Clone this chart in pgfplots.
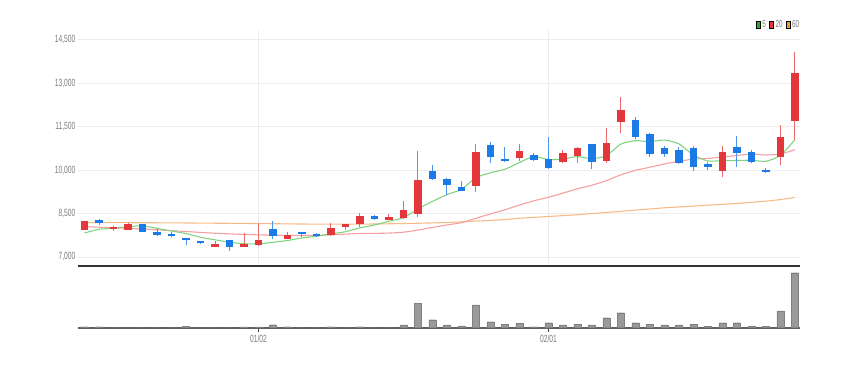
\documentclass[border=0pt]{standalone}
\usepackage{pgfplots}
\usepackage{pgfplotstable}
\pgfplotsset{compat=1.18}
\usepackage{fontspec}
\setmainfont{Liberation Sans}
\newfontfamily\tickfont{Liberation Sans}[FakeStretch=0.64]
\definecolor{upc}{HTML}{E4373C}
\definecolor{dnc}{HTML}{1B7AE6}
\definecolor{upw}{HTML}{EB6A6E}
\definecolor{dnw}{HTML}{4A95EA}
\definecolor{mafive}{HTML}{80D480}
\definecolor{matwenty}{HTML}{F4A0A0}
\definecolor{masixty}{HTML}{F6BC88}
\definecolor{lgreen}{HTML}{22B322}
\definecolor{lred}{HTML}{E83A3A}
\definecolor{lorange}{HTML}{F39A2C}
\definecolor{tickgray}{HTML}{7A7A7A}
\definecolor{gridc}{HTML}{EDEDED}
\definecolor{volg}{HTML}{9A9A9A}

\pgfplotstableread{
x o h l c
0 7933 8255 7916 8210
2 7968 8071 7899 8013
3 7933 8175 7916 8130
9 7346 7553 7330 7439
11 7356 7840 7340 7439
12 7415 8165 7390 7577
14 7632 7854 7610 7736
17 7770 8165 7743 7992
18 8047 8140 7933 8116
19 8130 8510 8047 8393
21 8279 8476 8262 8372
22 8337 8946 8324 8600
23 8476 10674 8372 9637
27 9446 10895 9257 10618
30 10411 10895 10328 10639
33 10294 10698 10260 10560
34 10490 10802 10238 10732
36 10328 11469 10238 10905
37 11676 12540 11275 12046
44 9982 10836 9775 10605
48 10466 11562 10180 11137
49 11700 14075 11043 13324
}\uptab

\pgfplotstableread{
x o h l c
1 8244 8313 8106 8165
4 8130 8150 7847 7875
5 7854 7968 7726 7760
6 7785 7875 7680 7715
7 7646 7667 7404 7577
8 7543 7560 7440 7474
10 7553 7570 7207 7356
13 7957 8244 7632 7736
15 7854 7864 7680 7805
16 7770 7840 7680 7726
20 8393 8440 8279 8303
24 9962 10180 9660 9696
25 9685 9713 9143 9478
26 9395 9627 9270 9291
28 10849 10964 10238 10466
29 10376 10791 10300 10307
31 10490 10584 10318 10352
32 10352 11157 10031 10065
35 10895 10905 10031 10273
38 11711 11828 11067 11137
39 11240 11295 10446 10560
40 10756 10836 10466 10560
41 10684 10812 10210 10238
42 10756 10836 9972 10121
43 10204 10294 10007 10121
45 10777 11182 10121 10584
46 10605 10698 10238 10294
47 9982 10065 9920 9938
}\dntab

\pgfplotstableread{
x m5 m20 m60
0 7830 8050 8190
1 7957 8030 8190
2 7992 8010 8188
3 8047 7990 8186
4 8079 7970 8184
5 7989 7940 8182
6 7899 7910 8180
7 7811 7880 8176
8 7680 7850 8172
9 7593 7820 8168
10 7512 7800 8164
11 7457 7780 8160
12 7457 7765 8155
13 7509 7755 8150
14 7569 7745 8145
15 7659 7740 8140
16 7716 7745 8136
17 7799 7765 8134
18 7875 7790 8134
19 8006 7812 8136
20 8106 7816 8140
21 8235 7827 8148
22 8357 7856 8156
23 8661 7931 8166
24 8922 8022 8178
25 9157 8108 8192
26 9340 8187 8215
27 9744 8339 8240
28 9910 8489 8265
29 10032 8632 8295
30 10264 8796 8340
31 10476 8942 8370
32 10366 9066 8400
33 10385 9208 8430
34 10470 9357 8460
35 10396 9481 8500
36 10507 9640 8540
37 10903 9842 8580
38 11019 9994 8620
39 10984 10102 8660
40 11042 10215 8700
41 10908 10308 8730
42 10523 10384 8760
43 10320 10408 8790
44 10329 10454 8820
45 10334 10509 8850
46 10345 10559 8890
47 10308 10525 8930
48 10512 10559 8985
49 11055 10710 9060
}\matab

\pgfplotstableread{
x v
0 10
1 10
2 0
3 0
4 0
5 0
6 0
7 12
8 0
9 0
10 0
11 8
12 8
13 30
14 10
15 0
16 0
17 10
18 0
19 10
20 0
21 0
22 27
23 244
24 80
25 27
26 17
27 227
28 60
29 33
30 43
31 10
32 50
33 27
34 33
35 27
36 100
37 150
38 50
39 33
40 27
41 27
42 33
43 13
44 50
45 50
46 13
47 13
48 167
49 550
}\voltab

\begin{document}
\begin{tikzpicture}
\path[use as bounding box] (0,0) rectangle (856bp,368bp);
% ---------------- price pane ----------------
\begin{axis}[
  at={(78bp,102bp)}, anchor=south west,
  scale only axis, width=722bp, height=236bp,
  xmin=-0.45, xmax=49.35, ymin=6689, ymax=14845,
  enlargelimits=false,
  axis x line*=bottom, axis y line*=left,
  x axis line style={draw=black!80, line width=1.6bp},
  y axis line style={draw=none},
  xtick={12,32}, xticklabels={},
  ytick={7000,8500,10000,11500,13000,14500},
  scaled y ticks=false,
  xmajorgrids, ymajorgrids,
  grid style={draw=gridc, line width=1bp},
  major tick length=0pt,
  /pgf/number format/assume math mode=true,
  /pgf/number format/.cd, 1000 sep={,}, /pgfplots/.cd,
  yticklabel style={font=\tickfont\fontsize{10.5}{11}\selectfont, text=tickgray, anchor=east, inner xsep=2.5bp},
  legend columns=3,
  legend style={draw=none, fill=none, at={(1,1)}, anchor=south east,
    inner sep=0pt, outer sep=0pt,
    font=\tickfont\fontsize{10}{10}\selectfont, text=tickgray,
    /tikz/every even column/.append style={column sep=2.5bp},
    nodes={inner xsep=0.8bp, inner ysep=1bp}},
  legend image code/.code={\fill[#1] (0bp,-3.6bp) rectangle (3.6bp,3.6bp);\path (5bp,0bp);},
]
% moving averages
\addplot[forget plot, masixty, line width=1.1bp, smooth, tension=0.4] table[x=x,y=m60] {\matab};
\addplot[forget plot, matwenty, line width=1.1bp, smooth, tension=0.4] table[x=x,y=m20] {\matab};
\addplot[forget plot, mafive, line width=1.1bp, smooth, tension=0.4] table[x=x,y=m5] {\matab};
% wicks
\addplot[forget plot, draw=none, mark=none,
  error bars/.cd, y dir=plus, y explicit, error mark=none,
  error bar style={draw=upw, line width=1bp}]
  table[x=x, y=l, y error expr=\thisrow{h}-\thisrow{l}] {\uptab};
\addplot[forget plot, draw=none, mark=none,
  error bars/.cd, y dir=plus, y explicit, error mark=none,
  error bar style={draw=dnw, line width=1bp}]
  table[x=x, y=l, y error expr=\thisrow{h}-\thisrow{l}] {\dntab};
% bodies
\addplot[forget plot, draw=none, mark=none,
  error bars/.cd, y dir=plus, y explicit, error mark=none,
  error bar style={draw=upc, line width=7.5bp}]
  table[x=x, y=o, y error expr=\thisrow{c}-\thisrow{o}+25] {\uptab};
\addplot[forget plot, draw=none, mark=none,
  error bars/.cd, y dir=plus, y explicit, error mark=none,
  error bar style={draw=dnc, line width=7.5bp}]
  table[x=x, y=c, y error expr=\thisrow{o}-\thisrow{c}+25] {\dntab};
% legend
\addlegendimage{fill=lgreen}\addlegendentry{5}
\addlegendimage{fill=lred}\addlegendentry{20}
\addlegendimage{fill=lorange}\addlegendentry{60}
\end{axis}
% ---------------- volume pane ----------------
\begin{axis}[
  at={(78bp,40.3bp)}, anchor=south west,
  scale only axis, width=722bp, height=61.7bp,
  xmin=-0.45, xmax=49.35, ymin=0, ymax=617,
  enlargelimits=false,
  axis x line*=bottom, axis y line*=left,
  x axis line style={draw=black!62, line width=2bp},
  y axis line style={draw=none},
  ytick=\empty,
  xtick={12,32}, xticklabels={01/02,02/01},
  tick align=outside, major tick length=4bp,
  tick style={draw=black!75, line width=0.9bp},
  xticklabel style={font=\tickfont\fontsize{10.5}{11}\selectfont, text=tickgray, inner ysep=3bp},
]
\addplot[ybar, bar width=7bp, fill=volg, draw=black!50, line width=0.3bp] table[x=x,y=v] {\voltab};
\end{axis}
\end{tikzpicture}
\end{document}
